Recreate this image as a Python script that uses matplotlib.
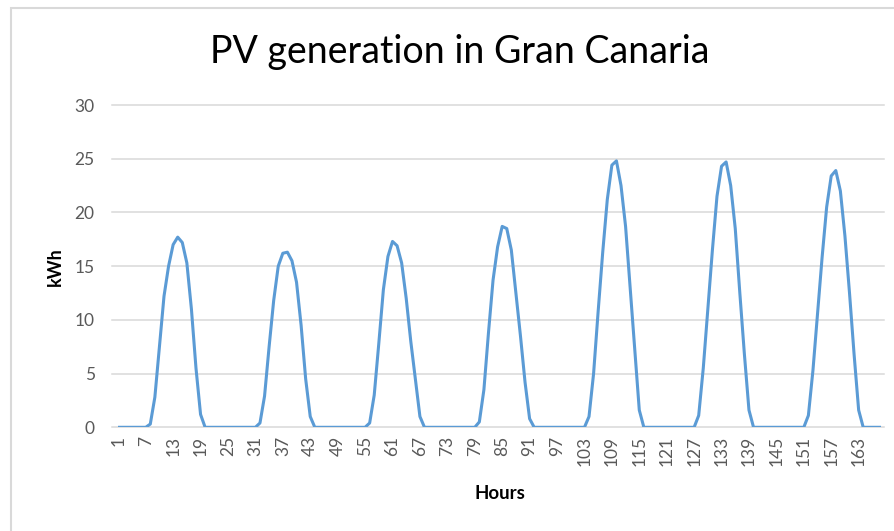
import matplotlib
matplotlib.use("Agg")
import matplotlib.pyplot as plt
from matplotlib.patches import Rectangle
import numpy as np

# ---------------------------------------------------------------------------
# Data (kWh per hour, one week = 168 hours); only non-zero daylight hours listed
# ---------------------------------------------------------------------------
hours = np.arange(1, 169)

day_start_hours = [8, 32, 56, 80, 104, 128, 152]
day_profiles = [
    [0.3, 2.8, 7.5, 12.2, 15.0, 17.0, 17.7, 17.2, 15.3, 11.0, 5.5, 1.2],
    [0.4, 2.9, 7.5, 11.8, 15.0, 16.2, 16.3, 15.5, 13.5, 9.5, 4.5, 1.0],
    [0.4, 3.0, 7.8, 12.8, 15.9, 17.3, 16.9, 15.3, 12.0, 8.0, 4.5, 1.0],
    [0.5, 3.5, 8.8, 13.7, 16.8, 18.7, 18.5, 16.5, 12.5, 8.5, 4.2, 0.8],
    [1.0, 5.0, 10.8, 16.3, 21.2, 24.4, 24.8, 22.5, 18.7, 13.0, 7.2, 1.6],
    [1.1, 5.5, 11.0, 16.5, 21.5, 24.3, 24.7, 22.5, 18.5, 12.5, 6.8, 1.6],
    [1.1, 5.3, 10.5, 15.8, 20.5, 23.4, 23.9, 22.0, 17.8, 12.5, 6.8, 1.6],
]

title = "PV generation in Gran Canaria"
x_label = "Hours"
y_label = "kWh"
x_tick_labels = [str(h) for h in range(1, 169, 6)]
y_ticks = [0, 5, 10, 15, 20, 25, 30]

pv = np.zeros(len(hours))
for start, prof in zip(day_start_hours, day_profiles):
    pv[start - 1:start - 1 + len(prof)] = prof

# ---------------------------------------------------------------------------
# Figure
# ---------------------------------------------------------------------------
plt.rcParams["font.family"] = ["Lato", "DejaVu Sans"]

W, H = 895, 531
fig = plt.figure(figsize=(W / 100, H / 100), dpi=100)
fig.patch.set_facecolor("white")

# chart-area border (Excel style)
fig.patches.append(Rectangle((11 / W, -0.1), 1.2, (H - 8) / H + 0.1,
                             transform=fig.transFigure, fill=False,
                             edgecolor="#d9d9d9", linewidth=1.5))

x0, x1 = 118.3 / W, 881.5 / W
y0, y1 = (H - 427.3) / H, (H - 105) / H
ax = fig.add_axes([x0, y0, x1 - x0, y1 - y0])

ax.plot(hours, pv, color="#5b9bd5", linewidth=2.2, solid_joinstyle="round",
        zorder=3)

ax.set_xlim(1, 168)
ax.set_ylim(0, 30)
ax.set_yticks(y_ticks)
ax.set_xticks(range(1, 169, 6))
ax.set_xticklabels(x_tick_labels, rotation=90)

for s in ["top", "right", "left", "bottom"]:
    ax.spines[s].set_visible(False)

for yt in y_ticks:
    ax.plot([-0.4, 168.6], [yt, yt], color="#d9d9d9", linewidth=1.1,
            clip_on=False, zorder=1)

ax.tick_params(axis="both", length=0, labelsize=12.5, colors="#595959")
ax.tick_params(axis="y", pad=17)
ax.tick_params(axis="x", pad=6)

ax.set_xlabel(x_label, fontsize=13.5, fontweight="bold", color="black",
              labelpad=14)
ax.set_ylabel(y_label, fontsize=13, fontweight="bold", color="black",
              labelpad=8)

fig.text(460 / W, 1 - 52 / H, title, fontsize=27, ha="center", va="center",
         color="black")

fig.savefig("out.png", dpi=100)
